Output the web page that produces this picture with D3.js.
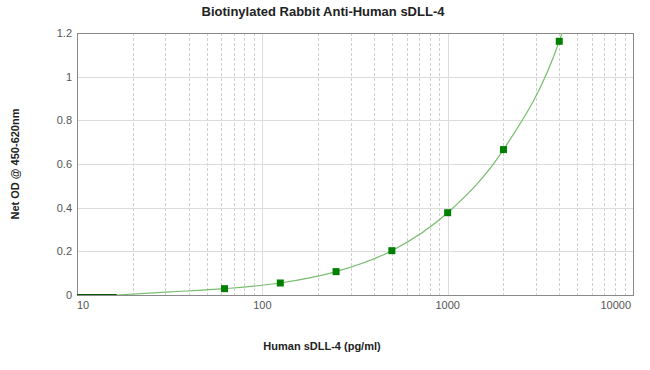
<!DOCTYPE html>
<html>
<head>
<meta charset="utf-8">
<script src="https://cdn.jsdelivr.net/npm/d3@7"></script>
<style>
    body { margin: 0; background: #fff; }
    text { font-family: "Liberation Sans", Arial, sans-serif; }
</style>
</head>
<body>
<div id="chart"></div>
<script>
// data
const standardConc = [62.5, 125, 250, 500, 1000, 2000, 4000];
const standardOD = [0.029, 0.055, 0.107, 0.203, 0.377, 0.666, 1.162];

// fitted curve, knots
const curveConc = [16.4, 31.7, 62.5, 125, 250, 500, 1000, 2000, 4000, 4600];
const curveOD = [0, 0.014, 0.029, 0.055, 0.107, 0.203, 0.377, 0.666, 1.162, 1.32];

// flat part of the fit clipped at zero
const flatConc = [10, 16.4];
const flatOD = [0, 0];

const yTicks = [0, 0.2, 0.4, 0.6, 0.8, 1, 1.2];
const xTicks = [10, 100, 1000, 10000];

const svgAttr = { width: 650, height: 370 };
const margin = { left: 77, right: 17, top: 33, bottom: 75 };

const colors = {
    grid: "#dcdcdc",
    minor: "#d0d0d0",
    frame: "#8a8a8a",
    tick: "#555555",
    curve: "#78bd6e",
    flat: "#0a5a0a",
    marker: "#008000"
};

const svg = d3.select("#chart")
              .append("svg")
              .attr("width", svgAttr.width)
              .attr("height", svgAttr.height);

const x = d3.scaleLog()
            .domain([10, 10000])
            .range([margin.left, svgAttr.width - margin.right]);

const y = d3.scaleLinear()
            .domain([0, 1.2])
            .range([svgAttr.height - margin.bottom, margin.top]);

const x0 = x.range()[0], x1 = x.range()[1];
const y0 = y.range()[0], y1 = y.range()[1];

// vertical grid: minor dashed, decades solid
const minorTicks = x.ticks().filter(t => xTicks.indexOf(t) < 0);
svg.append("g")
   .selectAll("line")
   .data(minorTicks)
   .join("line")
   .attr("x1", d => Math.round(x(d)) + 0.5)
   .attr("x2", d => Math.round(x(d)) + 0.5)
   .attr("y1", y1)
   .attr("y2", y0)
   .attr("stroke", colors.minor)
   .attr("stroke-dasharray", "3,2");

svg.append("g")
   .selectAll("line")
   .data(xTicks.slice(1, -1))
   .join("line")
   .attr("x1", d => Math.round(x(d)) + 0.5)
   .attr("x2", d => Math.round(x(d)) + 0.5)
   .attr("y1", y1)
   .attr("y2", y0)
   .attr("stroke", colors.grid);

// horizontal grid
svg.append("g")
   .selectAll("line")
   .data(yTicks.slice(1, -1))
   .join("line")
   .attr("x1", x0)
   .attr("x2", x1)
   .attr("y1", d => Math.round(y(d)) + 0.5)
   .attr("y2", d => Math.round(y(d)) + 0.5)
   .attr("stroke", colors.grid);

// frame
svg.append("rect")
   .attr("x", Math.round(x0) + 0.5)
   .attr("y", Math.round(y1) + 0.5)
   .attr("width", Math.round(x1) - Math.round(x0))
   .attr("height", Math.round(y0) - Math.round(y1))
   .attr("fill", "none")
   .attr("stroke", colors.frame);

// y tick labels
svg.append("g")
   .selectAll("text")
   .data(yTicks)
   .join("text")
   .attr("x", x0 - 5)
   .attr("y", d => y(d) + 4)
   .attr("text-anchor", "end")
   .attr("font-size", 11)
   .attr("fill", colors.tick)
   .text(d => d);

// x tick labels, end labels kept inside
svg.append("g")
   .selectAll("text")
   .data(xTicks)
   .join("text")
   .attr("x", (d, i) => i === 0 ? x(d) : i === xTicks.length - 1 ? x(d) - 2 : x(d))
   .attr("y", y0 + 14)
   .attr("text-anchor", (d, i) => i === 0 ? "start" : i === xTicks.length - 1 ? "end" : "middle")
   .attr("font-size", 11)
   .attr("fill", colors.tick)
   .text(d => d);

// clip to plot area
svg.append("defs")
   .append("clipPath")
   .attr("id", "plotClip")
   .append("rect")
   .attr("x", x0)
   .attr("y", y1)
   .attr("width", x1 - x0)
   .attr("height", y0 - y1);

const line = d3.line()
               .x(d => x(d[0]))
               .y(d => y(d[1]))
               .curve(d3.curveMonotoneX);

const plot = svg.append("g").attr("clip-path", "url(#plotClip)");

plot.append("path")
    .attr("d", line(d3.zip(curveConc, curveOD)))
    .attr("fill", "none")
    .attr("stroke", colors.curve)
    .attr("stroke-width", 1.2);

plot.append("path")
    .attr("d", line(d3.zip(flatConc, flatOD)))
    .attr("fill", "none")
    .attr("stroke", colors.flat)
    .attr("stroke-width", 2);

// standards
svg.append("g")
   .selectAll("rect")
   .data(d3.zip(standardConc, standardOD))
   .join("rect")
   .attr("x", d => x(d[0]) - 3.5)
   .attr("y", d => y(d[1]) - 3.5)
   .attr("width", 7)
   .attr("height", 7)
   .attr("fill", colors.marker);

// titles
svg.append("text")
   .attr("x", 323)
   .attr("y", 16)
   .attr("text-anchor", "middle")
   .attr("font-size", 13)
   .attr("font-weight", "bold")
   .attr("fill", "#222")
   .text("Biotinylated Rabbit Anti-Human sDLL-4");

svg.append("text")
   .attr("x", 322)
   .attr("y", 350)
   .attr("text-anchor", "middle")
   .attr("font-size", 11)
   .attr("font-weight", "bold")
   .attr("fill", "#222")
   .text("Human sDLL-4 (pg/ml)");

svg.append("text")
   .attr("transform", "translate(19," + 164 + ") rotate(-90)")
   .attr("text-anchor", "middle")
   .attr("font-size", 11)
   .attr("font-weight", "bold")
   .attr("fill", "#222")
   .text("Net OD @ 450-620nm");
</script>
</body>
</html>
